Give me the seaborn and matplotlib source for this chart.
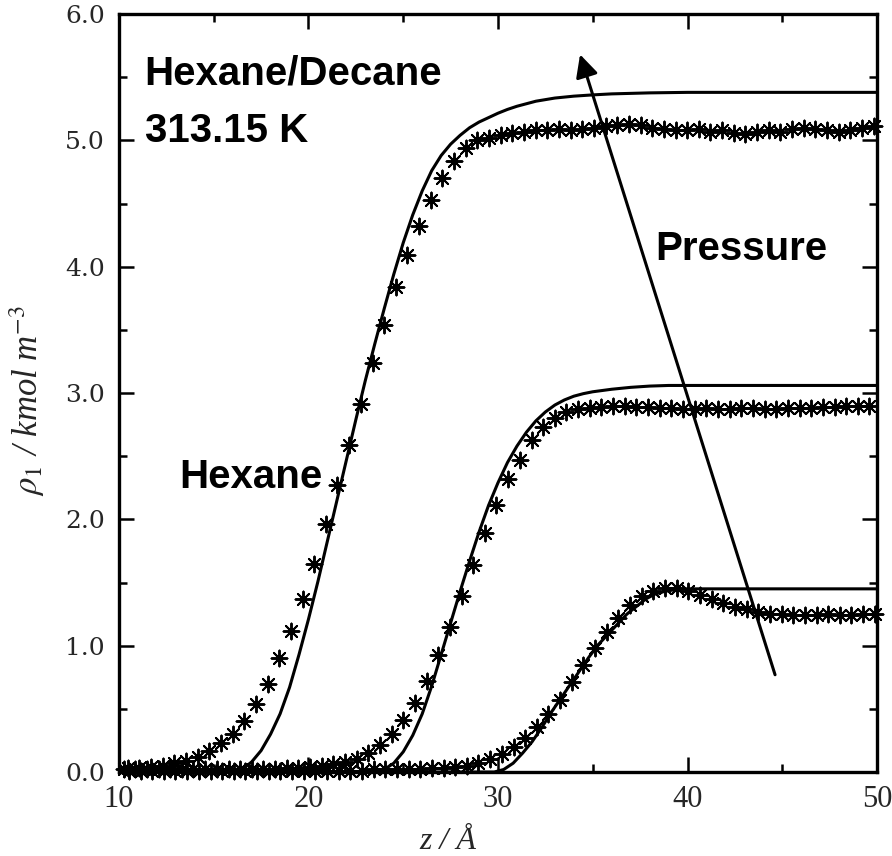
import numpy as np
import pandas as pd
import matplotlib
matplotlib.use("Agg")
import matplotlib.pyplot as plt
import seaborn as sns
from matplotlib.ticker import MultipleLocator, FormatStrFormatter

# ---------------- data ----------------
# theory profiles: lines
line1_z = [10.0, 16.0, 16.5, 17.0, 17.5, 18.0, 18.5, 19.0, 19.5, 20.0, 20.5, 21.0, 21.5, 22.0, 22.5,
           23.0, 23.5, 24.0, 24.5, 25.0, 25.5, 26.0, 26.5, 27.0, 27.5, 28.0, 28.5, 29.0, 29.5, 30.0,
           30.5, 31.0, 32.0, 33.0, 34.0, 35.0, 36.0, 38.0, 40.0, 50.0]
line1_rho = [0.0, 0.0, 0.02, 0.08, 0.17, 0.30, 0.46, 0.67, 0.93, 1.21, 1.51, 1.83, 2.15, 2.47, 2.79,
             3.10, 3.39, 3.67, 3.94, 4.19, 4.41, 4.60, 4.76, 4.88, 4.97, 5.04, 5.10, 5.145, 5.18, 5.215,
             5.245, 5.27, 5.31, 5.335, 5.35, 5.36, 5.368, 5.376, 5.38, 5.38]

line2_z = [10.0, 23.5, 24.0, 24.5, 25.0, 25.5, 26.0, 26.5, 27.0, 27.5, 28.0, 28.5, 29.0, 29.5,
           30.0, 30.5, 31.0, 31.5, 32.0, 32.5, 33.0, 33.5, 34.0, 34.5, 35.0, 36.0, 37.0, 38.0, 39.0, 50.0]
line2_rho = [0.0, 0.0, 0.02, 0.07, 0.16, 0.29, 0.46, 0.68, 0.93, 1.18, 1.43, 1.67, 1.90, 2.11,
             2.29, 2.45, 2.58, 2.69, 2.78, 2.85, 2.905, 2.945, 2.975, 2.995, 3.01, 3.03, 3.045, 3.055, 3.06, 3.06]

line3_z = [10.0, 29.8, 30.3, 30.8, 31.3, 31.8, 32.3, 32.8, 33.3, 33.8, 34.3, 34.8, 35.3, 35.8,
           36.3, 36.8, 37.3, 37.8, 38.3, 38.8, 39.4, 40.0, 50.0]
line3_rho = [0.0, 0.0, 0.02, 0.07, 0.15, 0.24, 0.35, 0.47, 0.58, 0.69, 0.80, 0.91, 1.01, 1.09,
             1.17, 1.25, 1.31, 1.37, 1.41, 1.43, 1.445, 1.45, 1.45]

# simulation profiles: asterisks
sim1_z = [10.46, 11.08, 11.69, 12.31, 12.92, 13.54, 14.15, 14.77, 15.38, 16.00, 16.61, 17.23, 17.84,
          18.46, 19.07, 19.69, 20.30, 20.92, 21.53, 22.15, 22.76, 23.38, 23.99, 24.61, 25.22, 25.84,
          26.45, 27.07, 27.68, 28.30, 28.91, 29.53, 30.14, 30.76, 31.37, 31.99, 32.60, 33.22, 33.83,
          34.45, 35.06, 35.68, 36.29, 36.91, 37.52, 38.14, 38.75, 39.37, 39.98, 40.60, 41.21, 41.83,
          42.44, 43.06, 43.67, 44.29, 44.90, 45.52, 46.13, 46.75, 47.36, 47.98, 48.59, 49.21, 49.82]
sim1_rho = [0.03, 0.03, 0.04, 0.05, 0.07, 0.09, 0.12, 0.17, 0.23, 0.30, 0.40, 0.54, 0.70,
            0.90, 1.12, 1.37, 1.65, 1.96, 2.27, 2.59, 2.91, 3.24, 3.54, 3.84, 4.09, 4.32,
            4.53, 4.70, 4.84, 4.94, 5.00, 5.02, 5.04, 5.06, 5.07, 5.08, 5.08, 5.09, 5.08,
            5.09, 5.10, 5.11, 5.12, 5.13, 5.12, 5.10, 5.09, 5.08, 5.08, 5.09, 5.07, 5.08,
            5.06, 5.05, 5.07, 5.08, 5.07, 5.09, 5.10, 5.09, 5.08, 5.07, 5.08, 5.10, 5.11]

sim2_z = [10.24, 10.86, 11.47, 12.09, 12.70, 13.32, 13.93, 14.55, 15.16, 15.78, 16.39, 17.01, 17.62,
          18.24, 18.85, 19.47, 20.08, 20.70, 21.31, 21.93, 22.54, 23.16, 23.77, 24.39, 25.00, 25.62,
          26.23, 26.85, 27.46, 28.08, 28.69, 29.31, 29.92, 30.54, 31.15, 31.77, 32.38, 33.00, 33.61,
          34.23, 34.84, 35.46, 36.07, 36.69, 37.30, 37.92, 38.53, 39.15, 39.76, 40.38, 40.99, 41.61,
          42.22, 42.84, 43.45, 44.07, 44.68, 45.30, 45.91, 46.53, 47.14, 47.76, 48.37, 48.99, 49.60]
sim2_rho = [0.02, 0.02, 0.02, 0.02, 0.02, 0.02, 0.02, 0.02, 0.02, 0.02, 0.02, 0.02, 0.02,
            0.02, 0.03, 0.03, 0.04, 0.05, 0.06, 0.08, 0.10, 0.15, 0.21, 0.30, 0.41, 0.55,
            0.72, 0.93, 1.15, 1.39, 1.64, 1.89, 2.11, 2.32, 2.47, 2.63, 2.73, 2.80, 2.85,
            2.87, 2.88, 2.89, 2.90, 2.90, 2.89, 2.89, 2.88, 2.88, 2.87, 2.87, 2.88, 2.87,
            2.87, 2.88, 2.88, 2.87, 2.87, 2.88, 2.88, 2.88, 2.89, 2.89, 2.90, 2.90, 2.90]

sim3_z = [10.52, 11.14, 11.75, 12.37, 12.98, 13.60, 14.21, 14.83, 15.44, 16.06, 16.67, 17.29, 17.90,
          18.52, 19.13, 19.75, 20.36, 20.98, 21.59, 22.21, 22.82, 23.44, 24.05, 24.67, 25.28, 25.90,
          26.51, 27.13, 27.74, 28.36, 28.97, 29.59, 30.20, 30.82, 31.43, 32.05, 32.66, 33.28, 33.89,
          34.51, 35.12, 35.74, 36.35, 36.97, 37.58, 38.20, 38.81, 39.43, 40.04, 40.66, 41.27, 41.89,
          42.50, 43.12, 43.73, 44.35, 44.96, 45.58, 46.19, 46.81, 47.42, 48.04, 48.65, 49.27, 49.88]
sim3_rho = [0.01, 0.01, 0.01, 0.01, 0.01, 0.01, 0.01, 0.01, 0.01, 0.01, 0.01, 0.01, 0.01,
            0.01, 0.01, 0.01, 0.01, 0.01, 0.01, 0.01, 0.01, 0.02, 0.02, 0.02, 0.02, 0.02,
            0.03, 0.03, 0.04, 0.05, 0.07, 0.10, 0.14, 0.20, 0.27, 0.36, 0.46, 0.57, 0.71,
            0.85, 0.98, 1.11, 1.22, 1.32, 1.39, 1.43, 1.46, 1.46, 1.43, 1.40, 1.37, 1.34,
            1.31, 1.29, 1.27, 1.25, 1.25, 1.24, 1.24, 1.24, 1.25, 1.24, 1.24, 1.25, 1.25]

x_ticks = [10, 20, 30, 40, 50]
y_ticks = [0.0, 1.0, 2.0, 3.0, 4.0, 5.0, 6.0]

# ---------------- plot ----------------
sns.set_theme(style="ticks")
plt.rcParams["mathtext.fontset"] = "stix"

fig = plt.figure(figsize=(8.92, 8.56), dpi=100)
ax = fig.add_axes([0.1334, 0.0981, 0.8498, 0.8855])

lines_df = pd.concat([
    pd.DataFrame({"z": line1_z, "rho": line1_rho, "set": "1"}),
    pd.DataFrame({"z": line2_z, "rho": line2_rho, "set": "2"}),
    pd.DataFrame({"z": line3_z, "rho": line3_rho, "set": "3"}),
])
sims_df = pd.concat([
    pd.DataFrame({"z": sim1_z, "rho": sim1_rho, "set": "1"}),
    pd.DataFrame({"z": sim2_z, "rho": sim2_rho, "set": "2"}),
    pd.DataFrame({"z": sim3_z, "rho": sim3_rho, "set": "3"}),
])

sns.lineplot(data=lines_df, x="z", y="rho", units="set", estimator=None, sort=False,
             color="black", linewidth=2.2, ax=ax, legend=False, zorder=3)

sns.scatterplot(data=sims_df, x="z", y="rho", marker=(8, 2, 0), s=130, color="black",
                edgecolor="black", linewidth=1.4, ax=ax, legend=False, zorder=4, clip_on=False)

ax.set_xlim(10, 50)
ax.set_ylim(0, 6)
ax.set_xticks(x_ticks)
ax.set_yticks(y_ticks)
ax.xaxis.set_minor_locator(MultipleLocator(5))
ax.yaxis.set_minor_locator(MultipleLocator(0.5))
ax.yaxis.set_major_formatter(FormatStrFormatter("%.1f"))
ax.tick_params(which="both", direction="in", top=True, right=True, width=1.8, color="black")
ax.tick_params(which="major", length=11)
ax.tick_params(which="minor", length=6)
ax.tick_params(axis="x", pad=9)
ax.tick_params(axis="y", pad=10)
for lab in ax.get_xticklabels():
    lab.set_fontfamily("Liberation Serif")
    lab.set_fontsize(22)
for lab in ax.get_yticklabels():
    lab.set_fontfamily("DejaVu Serif")
    lab.set_fontsize(18)
for sp in ax.spines.values():
    sp.set_linewidth(2.4)
    sp.set_color("black")

ax.set_xlabel("z / Å", fontfamily="Liberation Serif", fontstyle="italic", fontsize=23)
ax.xaxis.set_label_coords(0.434, -0.072)
ax.set_ylabel(r"$\rho_1$ / kmol m$^{-3}$", fontfamily="Liberation Serif", fontstyle="italic",
              fontsize=25)
ax.yaxis.set_label_coords(-0.095, 0.49)

bold = dict(fontfamily="Liberation Sans", fontweight="bold", fontsize=29, color="black")
ax.text(11.35, 5.44, "Hexane/Decane", ha="left", va="baseline", **bold)
ax.text(11.35, 4.99, "313.15 K", ha="left", va="baseline", **bold)
ax.text(38.28, 4.05, "Pressure", ha="left", va="baseline", **bold)
ax.text(13.2, 2.25, "Hexane", ha="left", va="baseline", **bold)

ax.annotate("", xy=(34.33, 5.68), xytext=(44.62, 0.77),
            arrowprops=dict(arrowstyle="-|>", lw=2.2, color="black", mutation_scale=34,
                            shrinkA=0, shrinkB=0))

fig.savefig("out.png", dpi=100)
